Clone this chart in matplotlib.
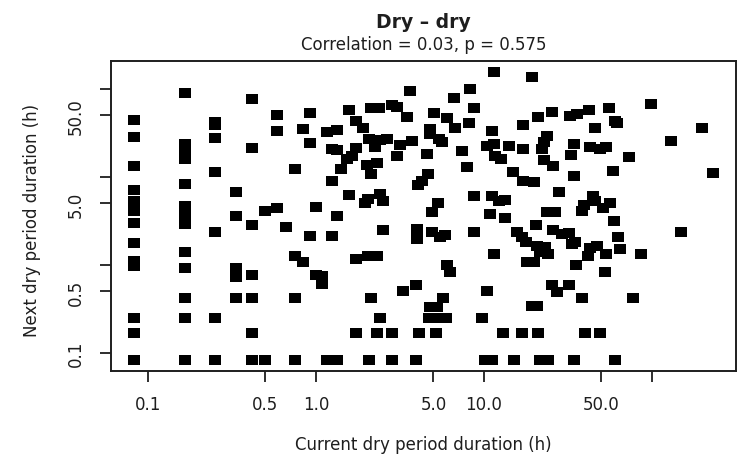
import matplotlib
matplotlib.use("Agg")
import matplotlib.pyplot as plt
import numpy as np

# Durations in hours: current dry spell (x) vs the dry spell that follows it (y)
# Spells shorter than one hour
short_current = [
    0.083, 0.083, 0.083, 0.083, 0.083, 0.083, 0.083, 0.083, 0.083, 0.083, 0.083, 0.083, 0.083,
    0.167, 0.167, 0.167, 0.167, 0.167, 0.167, 0.167, 0.167, 0.167, 0.167, 0.167, 0.167, 0.167,
    0.25, 0.25, 0.25, 0.25, 0.25, 0.25, 0.25,
    0.333, 0.333, 0.333, 0.333, 0.333,
    0.417, 0.417, 0.417, 0.417, 0.417, 0.417, 0.417,
    0.5, 0.5,
    0.583, 0.583, 0.583,
    0.667,
    0.75, 0.75, 0.75, 0.75,
    0.833, 0.833,
    0.917, 0.917, 0.917,
]
short_next = [
    44.5, 28.5, 13.4, 7.1, 5.4, 4.1, 3.0, 1.77, 1.12, 0.97, 0.25, 0.167, 0.083,
    89, 23.7, 19.5, 16.0, 8.3, 4.7, 3.7, 2.9, 1.42, 0.92, 0.417, 0.25, 0.083,
    42.5, 39, 27.7, 11.3, 2.4, 0.25, 0.083,
    6.8, 3.6, 0.92, 0.73, 0.417,
    76, 21.5, 2.87, 0.76, 0.417, 0.167, 0.083,
    4.07, 0.083,
    50.7, 33.3, 4.4,
    2.7,
    12.3, 1.28, 0.417, 0.083,
    35, 1.07,
    54, 24.5, 2.14,
]

# Spells between one and ten hours
mid_current = [
    1.0, 1.0, 1.083, 1.083, 1.167, 1.167, 1.25, 1.25, 1.25,
    1.333, 1.333, 1.333, 1.333, 1.4, 1.52, 1.57, 1.57, 1.63,
    1.73, 1.73, 1.73, 1.73, 1.90, 1.96, 2.0, 2.04, 2.04, 2.07, 2.07,
    2.14, 2.14, 2.14, 2.24, 2.30, 2.30, 2.32, 2.36,
    2.40, 2.40, 2.40, 2.49, 2.49, 2.64, 2.82, 2.82, 2.82,
    3.02, 3.02, 3.16, 3.28, 3.47, 3.63, 3.72, 3.94, 3.94,
    4.01, 4.01, 4.06, 4.12, 4.26, 4.56, 4.66, 4.68,
    4.77, 4.77, 4.77, 4.88, 4.88, 5.04, 5.18, 5.28, 5.28,
    5.32, 5.42, 5.47, 5.60, 5.67, 5.86, 5.98, 6.0, 6.0,
    6.28, 6.63, 6.72, 7.36, 7.89, 8.18, 8.26, 8.72, 8.72, 8.72, 9.68,
]
mid_next = [
    4.6, 0.76, 0.75, 0.61, 32.5, 0.083, 20.8, 9.1, 2.14,
    34, 20.4, 3.6, 0.083, 12.3, 16, 57.7, 6.2, 17.5,
    43.6, 21.2, 1.17, 0.167, 35.7, 5.0, 13.7, 5.6, 1.26, 27, 0.083,
    60.4, 10.8, 0.417, 21.8, 14.4, 1.26, 0.167, 60.4,
    26.3, 6.4, 0.25, 5.4, 2.52, 27, 65.8, 0.167, 0.083,
    62, 17.2, 23.1, 0.5, 47.7, 95.7, 25.9, 0.59, 0.083,
    2.57, 1.97, 8.1, 0.167, 9.1, 18.2, 10.8, 0.25,
    35, 30.8, 0.333, 4.03, 2.35, 53.4, 0.167, 0.25, 0.333,
    5.1, 27, 2.06, 24.8, 0.417, 2.19, 0.25, 46.5, 1.0,
    0.84, 79, 35.7, 19.9, 12.9, 41.1, 100, 61.3, 6.1, 2.4, 0.25,
]

# Spells of ten hours or longer
long_current = [
    10.2, 10.4, 10.4, 10.9, 11.1, 11.1, 11.2, 11.4, 11.4, 11.4,
    11.6, 12.2, 12.7, 12.9, 13.3, 13.3, 14.0, 14.9, 15.1, 15.7,
    16.8, 16.8, 17.1, 17.1, 17.1, 17.9, 18.0, 19.2, 19.4, 19.9, 19.9,
    20.4, 20.6, 20.7, 21.0, 21.0, 21.5, 21.6, 22.0, 22.7, 22.7,
    23.1, 23.6, 23.6, 24.0, 24.1, 25.3, 25.3, 25.6, 25.6, 26.5,
    27.1, 27.9, 29.0, 32.2, 32.2, 32.5, 32.8, 33.3, 34.5, 34.5, 34.5,
    34.8, 35.2, 35.9, 38.2, 38.2, 39.1, 40, 41.8, 42.2, 42.8, 42.8,
    44.4, 45.8, 46, 46.9, 49.0, 49.0, 51.3, 52.5, 53.3, 53.3,
    55.5, 56.2, 58.3, 59.5, 60.3, 60.3, 62.2, 63.1, 64.6,
    73.3, 76.8, 86.1, 98.6, 130, 148, 198, 230,
]
long_next = [
    0.083, 22.7, 0.5, 3.8, 33.6, 6.1, 0.083, 155, 23.7, 1.33,
    17.5, 5.4, 16, 0.167, 5.5, 3.4, 22.3, 11.5, 0.083, 2.35,
    2.06, 0.167, 39, 20.8, 9.1, 1.81, 1.07, 138, 0.34, 8.7, 1.07,
    2.87, 1.66, 0.34, 47.7, 0.167, 1.39, 0.083, 20.8, 25.2, 15.7,
    1.59, 29.5, 3.97, 0.083, 1.33, 55.2, 0.59, 13.4, 2.52, 4.03,
    0.49, 6.7, 2.25, 2.3, 0.59, 49, 17.6, 1.73, 23.7, 10.2, 0.083,
    1.81, 1.0, 52, 4.14, 0.417, 4.8, 0.167, 1.28, 57.7, 21.8, 1.55,
    6.1, 5.4, 35.7, 1.66, 20.8, 0.167, 4.5, 0.83, 21.8, 1.33,
    60.4, 5.1, 11.8, 3.2, 43.6, 0.083, 41.1, 2.1, 1.52,
    16.7, 0.417, 1.33, 67.6, 25.6, 2.4, 35.7, 11.0,
]

tick_values = [0.1, 0.5, 1, 5, 10, 50, 100]
x_tick_labels = ["0.1", "0.5", "1.0", "5.0", "10.0", "50.0", ""]
y_tick_labels = ["0.1", "0.5", "", "5.0", "", "50.0", ""]

title = "Dry \u2013 dry"
subtitle = "Correlation = 0.03, p = 0.575"
x_label = "Current dry period duration (h)"
y_label = "Next dry period duration (h)"

current = np.array(short_current + mid_current + long_current)
following = np.array(short_next + mid_next + long_next)

plt.rcParams["font.family"] = ["DejaVu Sans"]
ink = "#1e1e1e"

W, H = 737, 456
fig = plt.figure(figsize=(W / 100, H / 100), dpi=100)
ax = fig.add_axes([111 / W, 1 - 372 / H, (736 - 111) / W, (372 - 62) / H])

# slightly wide filled squares
square = [(-0.55, -0.5), (0.55, -0.5), (0.55, 0.5), (-0.55, 0.5), (-0.55, -0.5)]
ax.plot(current, following, linestyle="none", marker=square, markersize=8.0,
        color="black", markeredgewidth=0)

ax.set_xscale("log")
ax.set_yscale("log")
ax.set_xlim(0.0603, 316)
ax.set_ylim(0.0624, 208)

ax.set_xticks(tick_values)
ax.set_xticklabels(x_tick_labels)
ax.set_yticks(tick_values)
ax.set_yticklabels(y_tick_labels, rotation=90, va="center")
ax.minorticks_off()
ax.tick_params(axis="both", which="major", length=8, width=1.3, color=ink,
               labelsize=12, labelcolor=ink, direction="out")
ax.tick_params(axis="x", pad=9)
ax.tick_params(axis="y", pad=11)

for side in ax.spines.values():
    side.set_linewidth(1.4)
    side.set_color(ink)

fig.text(423.5 / W, 1 - 22 / H, title, ha="center", va="center",
         fontsize=13.5, fontweight="bold", color=ink)
fig.text(423.5 / W, 1 - 45 / H, subtitle, ha="center", va="center",
         fontsize=12, color=ink)
fig.text(423.5 / W, 1 - 445 / H, x_label, ha="center", va="center",
         fontsize=12, color=ink)
fig.text(32 / W, 1 - 220 / H, y_label, ha="center", va="center",
         rotation=90, fontsize=12, color=ink)

fig.savefig("out.png", dpi=100)
